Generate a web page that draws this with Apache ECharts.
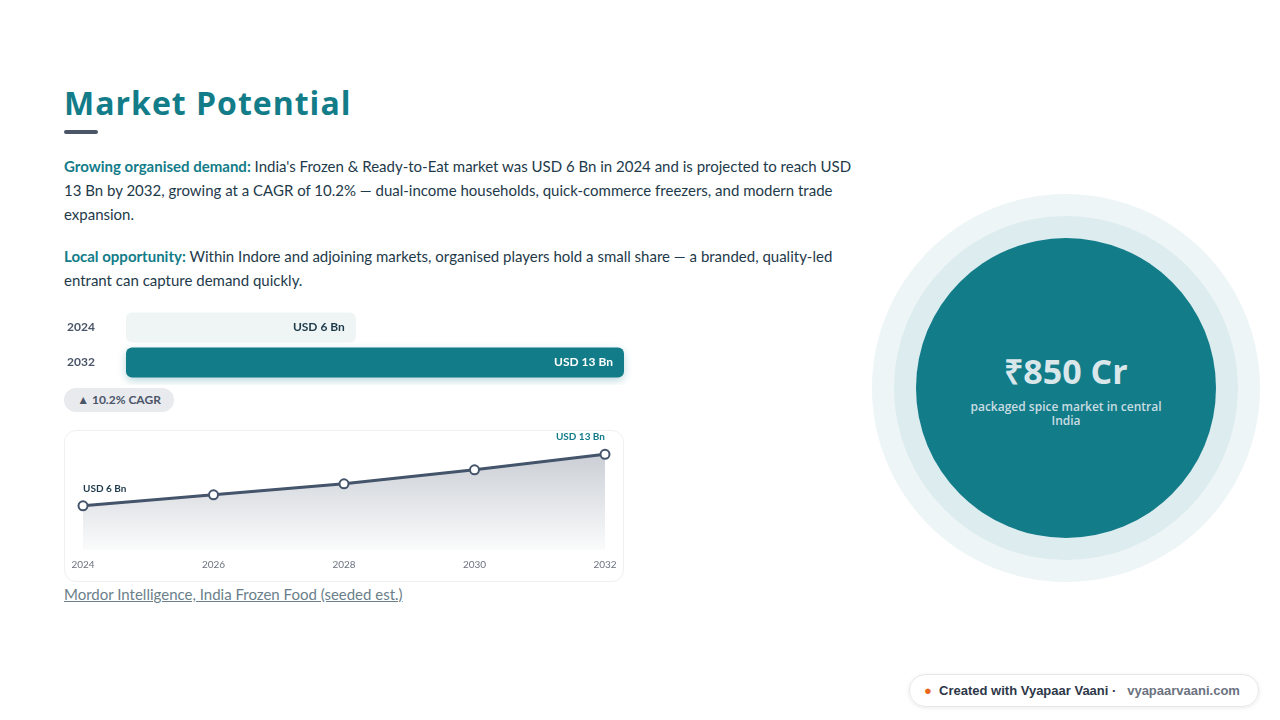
<!DOCTYPE html>
<html><head><meta charset="utf-8">
<script src="https://cdn.jsdelivr.net/npm/echarts@6/dist/echarts.min.js"></script>
<style>
body{margin:0;width:1280px;height:720px;background:#fff;font-family:Lato,sans-serif;position:relative;overflow:hidden;color:#1e3a4a}
.abs{position:absolute}
h1{position:absolute;left:64px;top:81px;margin:0;font-family:"Open Sans",sans-serif;font-weight:700;font-size:32px;color:#137c89;letter-spacing:1px}
.ul{left:64px;top:130px;width:34px;height:4px;background:#4a5568;border-radius:2px}
p{position:absolute;left:64px;width:795px;margin:0;font-size:15px;line-height:24px;color:#1e3a4a}
b.t{color:#137c89}
.pill{left:64px;top:388px;width:110px;height:24px;border-radius:12px;background:#e8eaee;font-size:12px;font-weight:700;color:#4a5568;line-height:24px;text-align:center}
.card{left:64px;top:430px;width:558px;height:150px;border:1px solid #eef0f2;border-radius:12px}
.src{left:64px;top:585px;font-size:15px;color:#6b7f8a;text-decoration:underline}
.c{border-radius:50%}
.badge{left:909px;top:674px;width:348px;height:31px;border:1px solid #e5e7eb;border-radius:16px;box-shadow:0 1px 4px rgba(0,0,0,.08);font-family:"Liberation Sans",Arial,sans-serif;font-size:13px;line-height:31px;font-weight:700;color:#2d3748}
</style></head><body>
<h1>Market Potential</h1><div class="abs ul"></div>
<p style="top:154px"><b class="t">Growing organised demand:</b> India's Frozen &amp; Ready-to-Eat market was USD 6 Bn in 2024 and is projected to reach USD 13 Bn by 2032, growing at a CAGR of 10.2% — dual-income households, quick-commerce freezers, and modern trade expansion.</p>
<p style="top:244px"><b class="t">Local opportunity:</b> Within Indore and adjoining markets, organised players hold a small share — a branded, quality-led entrant can capture demand quickly.</p>
<div id="bars" class="abs" style="left:64px;top:305px;width:580px;height:80px"></div>
<div class="abs pill">▲ 10.2% CAGR</div>
<div class="abs card"></div>
<div id="line" class="abs" style="left:64px;top:430px;width:560px;height:150px"></div>
<div class="abs src">Mordor Intelligence, India Frozen Food (seeded est.)</div>
<div class="abs c" style="left:872px;top:194px;width:388px;height:388px;background:#eef5f7"></div>
<div class="abs c" style="left:894px;top:216px;width:344px;height:344px;background:#ddecef"></div>
<div class="abs c" style="left:916px;top:238px;width:300px;height:300px;background:#137c89"></div>
<div class="abs" style="left:916px;top:348px;width:300px;text-align:center;font-family:'Open Sans',sans-serif;font-weight:700;font-size:34px;color:#d9e6ea">₹850 Cr</div>
<div class="abs" style="left:956px;top:400px;width:220px;text-align:center;font-family:'Open Sans',sans-serif;font-weight:600;font-size:12px;line-height:14px;color:#c9dde2">packaged spice market in central India</div>
<div class="abs badge"><span style="color:#e8681c;margin-left:14px">●</span>&nbsp;&nbsp;Created with Vyapaar Vaani ·&nbsp;&nbsp; <span style="color:#6b7280">vyapaarvaani.com</span></div>
<script>
const barYears=['2024','2032'];
const barValues=[6,13];
const barLabels=['USD 6 Bn','USD 13 Bn'];
const lineYears=['2024','2026','2028','2030','2032'];
const lineValues=[6,7.5,9,10.9,13];

const b=echarts.init(document.getElementById('bars'));
b.setOption({animation:false,
 grid:{left:59,right:20,top:5,bottom:5},
 xAxis:{type:'value',min:0,max:13,show:false},
 yAxis:{type:'category',inverse:true,data:barYears,axisLine:{show:false},axisTick:{show:false},
  axisLabel:{fontFamily:'Lato',fontWeight:700,fontSize:12,color:'#4a5568',align:'left',margin:59}},
 series:[{type:'bar',barWidth:30,
  data:barValues.map((v,i)=>({value:v,itemStyle:i?{color:'#137c89',shadowColor:'rgba(19,124,137,.3)',shadowBlur:8,shadowOffsetY:3}:{color:'#eef5f4'},
   label:{show:true,position:'insideRight',formatter:barLabels[i],fontFamily:'Lato',fontWeight:700,fontSize:12,color:i?'#fff':'#1e3a4a',distance:11}})),
  itemStyle:{borderRadius:6}}]});

const l=echarts.init(document.getElementById('line'));
l.setOption({animation:false,
 grid:{left:19,right:19,top:17,bottom:30},
 xAxis:{type:'category',boundaryGap:false,data:lineYears,axisLine:{show:false},axisTick:{show:false},
  axisLabel:{fontFamily:'Lato',fontSize:10,color:'#6b7280',margin:10}},
 yAxis:{type:'value',min:0,max:14,show:false},
 series:[{type:'line',symbol:'circle',symbolSize:9,
  data:lineValues.map((v,i)=>i==4?{value:v,label:{color:'#137c89',align:'right'}}:v),
  lineStyle:{color:'#44546a',width:3},itemStyle:{color:'#fff',borderColor:'#44546a',borderWidth:2},
  areaStyle:{color:new echarts.graphic.LinearGradient(0,0,0,1,[{offset:0,color:'rgba(68,84,106,0.4)'},{offset:1,color:'rgba(68,84,106,0.03)'}])},
  label:{show:true,position:'top',formatter:p=>p.dataIndex==0?'USD 6 Bn':(p.dataIndex==4?'USD 13 Bn':''),
   fontFamily:'Lato',fontWeight:700,fontSize:10,color:'#1e3a4a',align:'left',offset:[0,-2]}}]});
</script>
</body></html>
